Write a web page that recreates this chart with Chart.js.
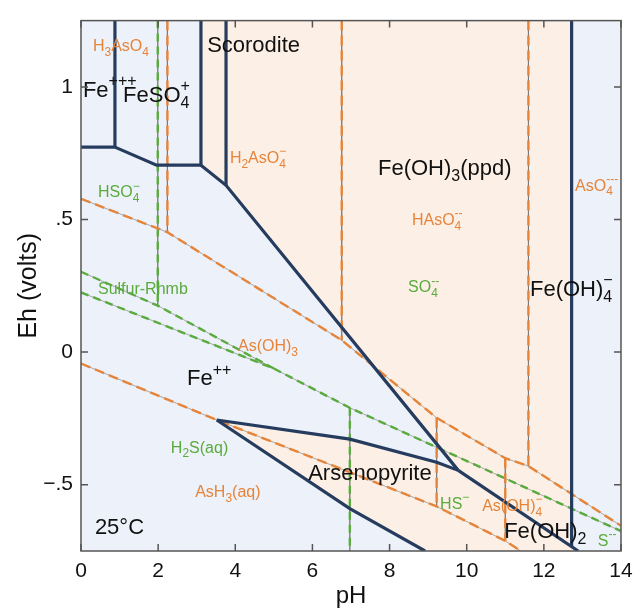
<!DOCTYPE html>
<html>
<head>
<meta charset="utf-8">
<script src="https://cdn.jsdelivr.net/npm/chart.js@4.4.0/dist/chart.umd.min.js"></script>
<style>
  html, body { margin: 0; padding: 0; background: #fff; }
</style>
</head>
<body>
<canvas id="pourbaix" width="641" height="608"></canvas>
<script>
/* ==============================
   DATA  (pH, Eh in volts)
============================== */
const phTicks = [0, 2, 4, 6, 8, 10, 12, 14];
const ehTicks = [-0.5, 0, 0.5, 1];
const ehTickLabels = ['\u2212.5', '0', '.5', '1'];

// stability fields
const fullArea = [[0, -0.75], [14, -0.75], [14, 1.25], [0, 1.25]];
const solidArea = [[3.11, 1.25], [3.11, 0.705], [3.76, 0.629], [9.78, -0.446], [9.22, -0.415],
  [6.97, -0.328], [3.52, -0.256], [6.97, -0.59], [8.92, -0.75], [12.72, -0.75], [12.72, 1.25]];

// iron boundaries (solid lines)
const fe3Fe2 = [[0, 0.773], [0.88, 0.773]];
const fe3FeSO4 = [[0.88, 1.25], [0.88, 0.773]];
const feSO4Fe2 = [[0.88, 0.773], [1.96, 0.705], [3.11, 0.705]];
const feSO4Scorodite = [[3.11, 1.25], [3.11, 0.705]];
const scoroditeFe2 = [[3.11, 0.705], [3.76, 0.629], [9.78, -0.446]];
const scoroditeFeOH3 = [[3.76, 1.25], [3.76, 0.629]];
const feOH3Arseno = [[9.78, -0.446], [12.89, -0.75]];
const feOH3FeOH4 = [[12.72, 1.25], [12.72, -0.733]];
const arsenoUpper = [[3.52, -0.256], [6.97, -0.328], [9.22, -0.415], [9.78, -0.446]];
const arsenoLower = [[3.52, -0.256], [6.97, -0.59], [8.92, -0.75]];

// arsenic boundaries (orange dashed)
const asUpper = [[0, 0.578], [2.24, 0.452], [6.76, 0.045], [9.22, -0.248], [11.0, -0.40], [11.6, -0.43], [14, -0.655]];
const asLower = [[0, -0.043], [3.52, -0.256], [9.22, -0.582], [11.0, -0.712], [11.4, -0.75]];
const asV1 = [[2.24, 1.25], [2.24, 0.452]];
const asV2 = [[6.76, 1.25], [6.76, 0.045]];
const asV3 = [[11.6, 1.25], [11.6, -0.43]];
const asIII1 = [[9.22, -0.248], [9.22, -0.582]];
const asIII2 = [[11.0, -0.40], [11.0, -0.712]];

// sulfur boundaries (green dashed)
const sUpper = [[0, 0.303], [1.99, 0.175], [5.0, -0.062]];
const sLower = [[0, 0.225], [5.0, -0.062]];
const sMain = [[5.0, -0.062], [6.97, -0.21], [14, -0.675]];
const sV1 = [[1.99, 1.25], [1.99, 0.175]];
const sV2 = [[6.97, -0.21], [6.97, -0.75]];

/* ==============================
   STYLE
============================== */
const FONT = '"Liberation Sans", Arial, Helvetica, sans-serif';
const NAVY = '#263c5e';
const ORANGE = '#e6843a';
const GREEN = '#5aab3e';
const BLACK = '#111';
const AXIS = '#555';

// species labels: parts, pH, Eh, colour, font size
const labels = [
  { parts: ['H', { sub: '3' }, 'AsO', { sub: '4' }], x: 0.31, y: 1.152, c: ORANGE, s: 16 },
  { parts: ['Fe', { sup: '+++' }], x: 0.05, y: 0.985, c: BLACK, s: 22 },
  { parts: ['FeSO', { sub: '4', sup: '+' }], x: 1.09, y: 0.967, c: BLACK, s: 22 },
  { parts: ['Scorodite'], x: 3.27, y: 1.156, c: BLACK, s: 22 },
  { parts: ['H', { sub: '2' }, 'AsO', { sub: '4', sup: '\u2212' }], x: 3.86, y: 0.729, c: ORANGE, s: 16 },
  { parts: ['Fe(OH)', { sub: '3' }, '(ppd)'], x: 7.70, y: 0.692, c: BLACK, s: 22 },
  { parts: ['AsO', { sub: '4', sup: '---' }], x: 12.81, y: 0.625, c: ORANGE, s: 16 },
  { parts: ['HAsO', { sub: '4', sup: '--' }], x: 8.58, y: 0.495, c: ORANGE, s: 16 },
  { parts: ['HSO', { sub: '4', sup: '\u2212' }], x: 0.44, y: 0.60, c: GREEN, s: 16 },
  { parts: ['Sulfur-Rhmb'], x: 0.44, y: 0.235, c: GREEN, s: 16 },
  { parts: ['SO', { sub: '4', sup: '--' }], x: 8.48, y: 0.242, c: GREEN, s: 16 },
  { parts: ['Fe(OH)', { sub: '4', sup: '\u2212' }], x: 11.64, y: 0.235, c: BLACK, s: 22 },
  { parts: ['As(OH)', { sub: '3' }], x: 4.07, y: 0.02, c: ORANGE, s: 16 },
  { parts: ['Fe', { sup: '++' }], x: 2.75, y: -0.103, c: BLACK, s: 22 },
  { parts: ['H', { sub: '2' }, 'S(aq)'], x: 2.33, y: -0.363, c: GREEN, s: 16 },
  { parts: ['AsH', { sub: '3' }, '(aq)'], x: 2.96, y: -0.53, c: ORANGE, s: 16 },
  { parts: ['Arsenopyrite'], x: 5.89, y: -0.46, c: BLACK, s: 22 },
  { parts: ['HS', { sup: '\u2212' }], x: 9.31, y: -0.575, c: GREEN, s: 16 },
  { parts: ['As(OH)', { sub: '4', sup: '\u2212' }], x: 10.4, y: -0.582, c: ORANGE, s: 16 },
  { parts: ['Fe(OH)', { sub: '2' }], x: 10.97, y: -0.678, c: BLACK, s: 22 },
  { parts: ['S', { sup: '--' }], x: 13.4, y: -0.715, c: GREEN, s: 16 },
  { parts: ['25\u00b0C'], x: 0.36, y: -0.664, c: BLACK, s: 22 }
];

const pts = arr => arr.map(([x, y]) => ({ x, y }));

// higher order is painted first
function region(arr, color, order) {
  return { data: pts(arr), showLine: true, fill: 'shape', backgroundColor: color,
    borderWidth: 0, pointRadius: 0, order: order };
}
function solid(arr) {
  return { data: pts(arr), showLine: true, borderColor: NAVY, borderWidth: 3.2,
    pointRadius: 0, fill: false, order: 1 };
}
function dashed(arr, color, dash, order) {
  return [
    { data: pts(arr), showLine: true, borderColor: 'rgba(105,105,105,0.55)', borderWidth: 1,
      pointRadius: 0, fill: false, order: order + 1 },
    { data: pts(arr), showLine: true, borderColor: color, borderWidth: 2.4, borderDash: dash,
      pointRadius: 0, fill: false, order: order }
  ];
}

const datasets = [
  region(fullArea, '#edf1f9', 21),
  region(solidArea, '#fcf0e6', 20),
  ...[sUpper, sLower, sMain, sV1, sV2].flatMap(a => dashed(a, GREEN, [8, 5], 8)),
  ...[asUpper, asLower, asV1, asV2, asV3, asIII1, asIII2].flatMap(a => dashed(a, ORANGE, [10, 5], 5)),
  ...[fe3Fe2, fe3FeSO4, feSO4Fe2, feSO4Scorodite, scoroditeFe2, scoroditeFeOH3,
      feOH3Arseno, feOH3FeOH4, arsenoUpper, arsenoLower].map(solid)
];

/* ==============================
   PLUGINS: frame, inner ticks, labels
============================== */
function drawRich(ctx, parts, x, y, size, color) {
  ctx.fillStyle = color;
  ctx.textBaseline = 'middle';
  ctx.textAlign = 'left';
  const small = Math.round(size * 0.72);
  let cx = x;
  for (const p of parts) {
    if (typeof p === 'string') {
      ctx.font = `${size}px ${FONT}`;
      ctx.fillText(p, cx, y);
      cx += ctx.measureText(p).width;
    } else {
      ctx.font = `${small}px ${FONT}`;
      let w = 0;
      if (p.sub) { ctx.fillText(p.sub, cx, y + size * 0.36); w = Math.max(w, ctx.measureText(p.sub).width); }
      if (p.sup) { ctx.fillText(p.sup, cx, y - size * 0.42); w = Math.max(w, ctx.measureText(p.sup).width); }
      cx += w;
    }
  }
}

const framePlugin = {
  id: 'frame',
  afterDatasetsDraw(chart) {
    const { ctx, chartArea: a, scales: { x, y } } = chart;
    ctx.save();
    ctx.beginPath();
    ctx.rect(a.left, a.top, a.width, a.height);
    ctx.clip();
    labels.forEach(l => drawRich(ctx, l.parts, x.getPixelForValue(l.x), y.getPixelForValue(l.y), l.s, l.c));
    ctx.restore();

    ctx.save();
    ctx.strokeStyle = AXIS;
    ctx.lineWidth = 1.5;
    ctx.strokeRect(a.left, a.top, a.width, a.height);
    const len = 7;
    ctx.beginPath();
    phTicks.forEach(v => {
      const px = x.getPixelForValue(v);
      ctx.moveTo(px, a.bottom); ctx.lineTo(px, a.bottom - len);
      ctx.moveTo(px, a.top); ctx.lineTo(px, a.top + len);
    });
    ehTicks.forEach(v => {
      const py = y.getPixelForValue(v);
      ctx.moveTo(a.left, py); ctx.lineTo(a.left + len, py);
      ctx.moveTo(a.right, py); ctx.lineTo(a.right - len, py);
    });
    ctx.stroke();
    ctx.restore();
  }
};

/* ==============================
   CHART
============================== */
new Chart(document.getElementById('pourbaix').getContext('2d'), {
  type: 'scatter',
  data: { datasets },
  options: {
    responsive: false,
    animation: false,
    layout: { padding: { top: 12, right: 20, left: 0, bottom: 0 } },
    plugins: { legend: { display: false }, tooltip: { enabled: false } },
    scales: {
      x: {
        type: 'linear', min: 0, max: 14,
        afterBuildTicks: s => { s.ticks = phTicks.map(v => ({ value: v })); },
        afterFit: s => { s.height = 57; },
        grid: { drawOnChartArea: false, drawTicks: false },
        border: { display: false },
        ticks: { color: '#111', padding: 8, font: { family: FONT, size: 21 } },
        title: { display: true, text: 'pH', color: '#111', padding: { top: 0, bottom: -3 },
          font: { family: FONT, size: 24 } }
      },
      y: {
        type: 'linear', min: -0.75, max: 1.25,
        afterBuildTicks: s => { s.ticks = ehTicks.map(v => ({ value: v })); },
        afterFit: s => { s.width = 81; },
        grid: { drawOnChartArea: false, drawTicks: false },
        border: { display: false },
        ticks: {
          color: '#111', padding: 8, font: { family: FONT, size: 21 },
          callback: v => ehTickLabels[ehTicks.indexOf(v)]
        },
        title: { display: true, text: 'Eh (volts)', color: '#111', padding: { top: 14, bottom: 0 },
          font: { family: FONT, size: 25 } }
      }
    }
  },
  plugins: [framePlugin]
});
</script>
</body>
</html>
